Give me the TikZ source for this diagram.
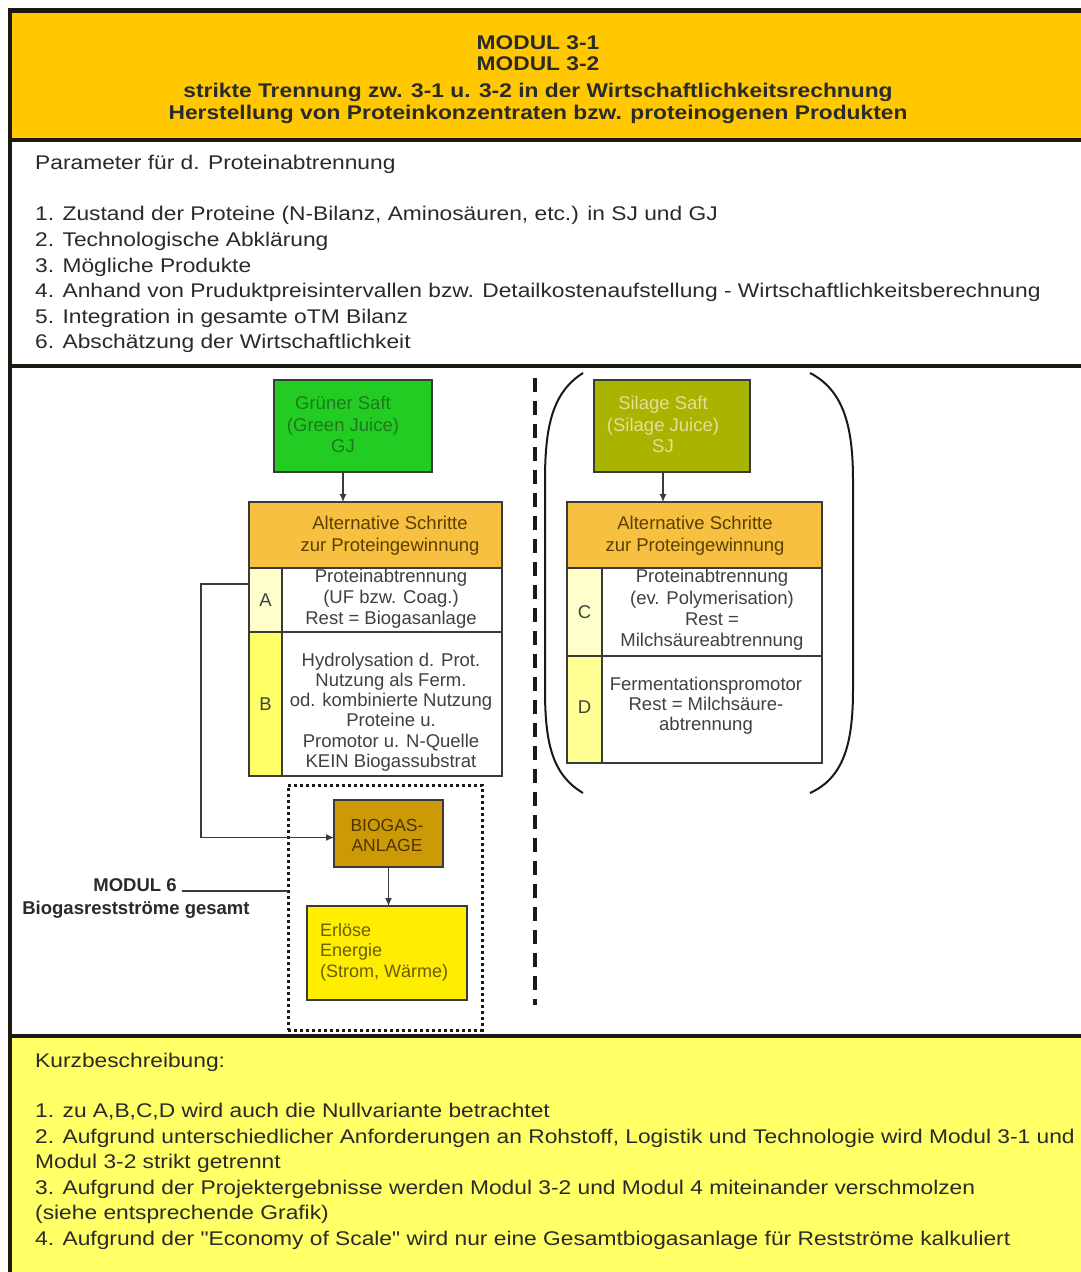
\documentclass[tikz,border=0pt]{standalone}
\usepackage{fontspec}
\setmainfont{Liberation Sans}
\newfontfamily\widesans[FakeStretch=1.15]{Liberation Sans}
\usetikzlibrary{arrows.meta}

\definecolor{titlefill}{HTML}{FFC800}
\definecolor{notefill}{HTML}{FFFF66}
\definecolor{framecol}{HTML}{1E1812}
\definecolor{boxline}{HTML}{3A3A3A}
\definecolor{textdark}{HTML}{2A2A2A}
\definecolor{boxtextcol}{HTML}{404040}
\definecolor{gjfill}{HTML}{22CC22}
\definecolor{gjtext}{HTML}{1F7A1F}
\definecolor{sjfill}{HTML}{A8B400}
\definecolor{sjtext}{HTML}{E4DE98}
\definecolor{altfill}{HTML}{F8C040}
\definecolor{alttext}{HTML}{5A4000}
\definecolor{lightcell}{HTML}{FFFFCC}
\definecolor{yellowcell}{HTML}{FFFF66}
\definecolor{biofill}{HTML}{CC9A06}
\definecolor{biotext}{HTML}{4D3300}
\definecolor{erlfill}{HTML}{FFEE00}
\definecolor{erltext}{HTML}{6B5C00}

\begin{document}
\begin{tikzpicture}[x=1pt,y=-1pt,
  frame/.style={line width=4pt, draw=framecol},
  box/.style={draw=boxline, line width=1.3pt, anchor=north west, inner sep=0pt, outer sep=0pt},
  boxtext/.style={font=\fontsize{18.5}{21}\selectfont, text=boxtextcol, align=center, inner sep=0pt},
  lettertext/.style={font=\fontsize{18.5}{21}\selectfont, text=boxtextcol, inner sep=0pt},
  titletext/.style={font=\widesans\bfseries\fontsize{19.8}{24}\selectfont, text=textdark, anchor=base, inner sep=0pt},
  partext/.style={font=\widesans\fontsize{19.8}{24}\selectfont, text=textdark, anchor=base west, inner sep=0pt},
  sidelabel/.style={font=\bfseries\fontsize{18.5}{21}\selectfont, text=textdark, anchor=base, inner sep=0pt},
  arr/.style={-{Latex[length=8pt,width=7pt]}, line width=1.3pt, draw=boxline},
  paren/.style={line width=2pt, draw=framecol},
]
% canvas
\fill[white] (0,0) rectangle (1081,1272);
\path[use as bounding box] (0,0) rectangle (1081,1272);

% section backgrounds and rules
\fill[titlefill] (10,10) rectangle (1081,140);
\fill[notefill] (10,1036) rectangle (1081,1272);
\draw[frame, line width=5pt] (8,10.5) -- (1081,10.5);
\draw[frame] (10,8) -- (10,1272);
\draw[frame] (10,140) -- (1081,140);
\draw[frame] (10,366) -- (1081,366);
\draw[frame] (10,1036) -- (1081,1036);

% heading
\node[titletext] (t1) at (538,49) {MODUL 3-1};
\node[titletext] (t2) at (538,70) {MODUL 3-2};
\node[titletext] (t3) at (538,97) {strikte Trennung zw. 3-1 u. 3-2 in der Wirtschaftlichkeitsrechnung};
\node[titletext] (t4) at (538,119) {Herstellung von Proteinkonzentraten bzw. proteinogenen Produkten};

% parameter list
\node[partext] (p0) at (35,169) {Parameter für d. Proteinabtrennung};
\foreach \y/\t [count=\i] in {
  220/{1. Zustand der Proteine (N-Bilanz, Aminosäuren, etc.) in SJ und GJ},
  246/{2. Technologische Abklärung},
  272/{3. Mögliche Produkte},
  297/{4. Anhand von Pruduktpreisintervallen bzw. Detailkostenaufstellung - Wirtschaftlichkeitsberechnung},
  323/{5. Integration in gesamte oTM Bilanz},
  348/{6. Abschätzung der Wirtschaftlichkeit}}
  \node[partext] (p\i) at (35,\y) {\t};

% green juice branch
\node[box, fill=gjfill, minimum width=158pt, minimum height=92pt] (gj) at (274,380) {};
\node[boxtext, text=gjtext, font=\fontsize{18.5}{21.5}\selectfont] (gjt) at (343,424.5) {Grüner Saft\\(Green Juice)\\GJ};
\node[box, fill=altfill, minimum width=253pt, minimum height=66pt] (altg) at (249,502) {};
\node[boxtext, text=alttext, font=\fontsize{18.5}{22}\selectfont] (altgt) at (390,536) {Alternative Schritte\\zur Proteingewinnung};
\node[box, fill=lightcell, minimum width=33pt, minimum height=64pt] (cellA) at (249,568) {};
\node[box, fill=white, minimum width=220pt, minimum height=64pt] (rowA) at (282,568) {};
\node[box, fill=yellowcell, minimum width=33pt, minimum height=144pt] (cellB) at (249,632) {};
\node[box, fill=white, minimum width=220pt, minimum height=144pt] (rowB) at (282,632) {};
\node[lettertext] (la) at (cellA.center) {A};
\node[lettertext] (lb) at (cellB.center) {B};
\node[boxtext] (ta) at (391,599) {Proteinabtrennung\\(UF bzw. Coag.)\\Rest = Biogasanlage};
\node[boxtext, font=\fontsize{18.5}{20.2}\selectfont] (tb) at (391,712) {Hydrolysation d. Prot.\\Nutzung als Ferm.\\od. kombinierte Nutzung\\Proteine u.\\Promotor u. N-Quelle\\KEIN Biogassubstrat};

% silage juice branch
\node[box, fill=sjfill, minimum width=156pt, minimum height=92pt] (sj) at (594,380) {};
\node[boxtext, text=sjtext, font=\fontsize{18.5}{21.5}\selectfont] (sjt) at (663,424.5) {Silage Saft\\(Silage Juice)\\SJ};
\node[box, fill=altfill, minimum width=255pt, minimum height=66pt] (alts) at (567,502) {};
\node[boxtext, text=alttext, font=\fontsize{18.5}{22}\selectfont] (altst) at (695,536) {Alternative Schritte\\zur Proteingewinnung};
\node[box, fill=lightcell, minimum width=35pt, minimum height=88pt] (cellC) at (567,568) {};
\node[box, fill=white, minimum width=220pt, minimum height=88pt] (rowC) at (602,568) {};
\node[box, fill=yellowcell!70!white, minimum width=35pt, minimum height=107pt] (cellD) at (567,656) {};
\node[box, fill=white, minimum width=220pt, minimum height=107pt] (rowD) at (602,656) {};
\node[lettertext] (lc) at (cellC.center) {C};
\node[lettertext] (ld) at ([yshift=2pt]cellD.center) {D};
\node[boxtext, font=\fontsize{18.5}{21.3}\selectfont] (tc) at (712,610) {Proteinabtrennung\\(ev. Polymerisation)\\Rest =\\Milchsäureabtrennung};
\node[boxtext, font=\fontsize{18.5}{20}\selectfont] (td) at (706,706) {Fermentationspromotor\\Rest = Milchsäure-\\abtrennung};

% brackets round the silage branch
\draw[paren] (583,373) .. controls (553,392) and (545,425) .. (545,480) -- (545,690) .. controls (545,745) and (553,775) .. (583,793);
\draw[paren] (810,373) .. controls (843,390) and (853,425) .. (853,480) -- (853,690) .. controls (853,745) and (843,778) .. (810,793);

% separator between the two juices
\draw[framecol, line width=3.5pt, dash pattern=on 14pt off 9pt] (535,378) -- (535,1005);

% biogas module
\node[box, draw=framecol, line width=3pt, dash pattern=on 3pt off 3pt, minimum width=194pt, minimum height=245pt] (m6box) at (288,785) {};
\node[box, fill=biofill, minimum width=109pt, minimum height=67pt] (bio) at (334,800) {};
\node[boxtext, text=biotext, font=\fontsize{17.5}{20}\selectfont] (biot) at (387,835) {BIOGAS-\\ANLAGE};
\node[box, fill=erlfill, minimum width=160pt, minimum height=94pt] (erl) at (307,906) {};
\node[boxtext, text=erltext, align=left, anchor=west, font=\fontsize{18}{20.5}\selectfont] (erlt) at (320,952) {Erlöse\\Energie\\(Strom, Wärme)};

\node[sidelabel] (m6a) at (135,891) {MODUL 6};
\node[sidelabel] (m6b) at (136,914) {Biogasrestströme gesamt};
\draw[line width=1.3pt, draw=boxline] ([xshift=5pt]m6a.base east) -- (m6a.base -| m6box.west);

% flows
\draw[arr] (gjt.center |- gj.south) -- (gjt.center |- altg.north);
\draw[arr] (sjt.center |- sj.south) -- (sjt.center |- alts.north);
\draw[arr] ([yshift=-16pt]cellA.north west) -- ++(-48,0) |- ([yshift=-4pt]bio.west);
\draw[arr] (bio.south) -- (bio.south |- erl.north);

% short description
\node[partext] (k0) at (35,1067) {Kurzbeschreibung:};
\foreach \y/\t [count=\i] in {
  1117/{1. zu A,B,C,D wird auch die Nullvariante betrachtet},
  1143/{2. Aufgrund unterschiedlicher Anforderungen an Rohstoff, Logistik und Technologie wird Modul 3-1 und},
  1168/{Modul 3-2 strikt getrennt},
  1194/{3. Aufgrund der Projektergebnisse werden Modul 3-2 und Modul 4 miteinander verschmolzen},
  1219/{(siehe entsprechende Grafik)},
  1245/{4. Aufgrund der "Economy of Scale" wird nur eine Gesamtbiogasanlage für Restströme kalkuliert}}
  \node[partext] (k\i) at (35,\y) {\t};
\end{tikzpicture}
\end{document}
